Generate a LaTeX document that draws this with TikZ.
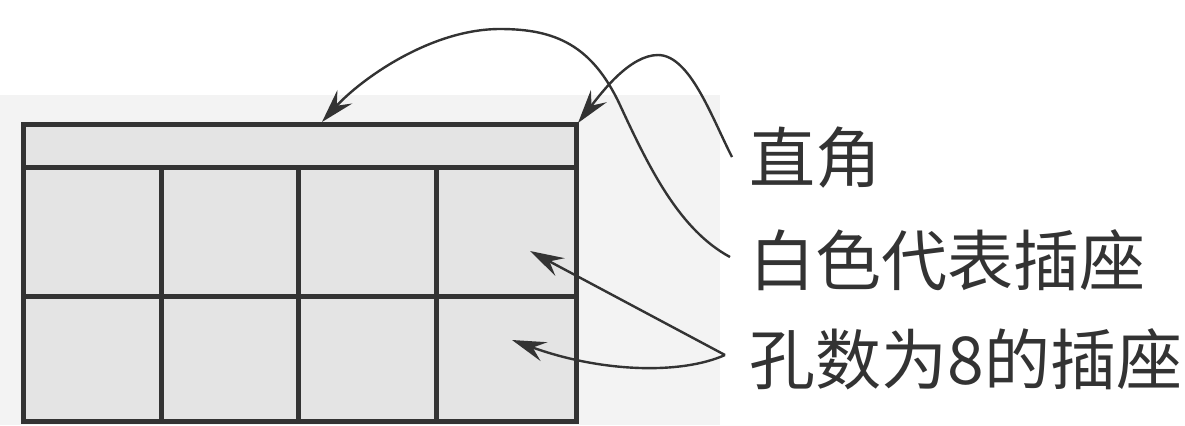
\documentclass[tikz,border=0pt]{standalone}
\usepackage{fontspec}
\newfontfamily\cjk{Noto Sans CJK SC}
\usetikzlibrary{arrows.meta}
\definecolor{ink}{HTML}{333333}
\definecolor{paper}{HTML}{E4E4E4}
\definecolor{haze}{HTML}{F3F3F3}
\tikzset{
  frame/.style={draw=ink, line width=2.5pt, line cap=rect},
  grid/.style={draw=ink, line width=2.5pt},
  pointer/.style={draw=ink, line width=1.2pt, -{Stealth[length=17pt, width=10pt, inset=6pt]}},
  label/.style={anchor=base west, inner sep=0pt, text=ink, font=\cjk\fontsize{33}{33}\selectfont},
}
\begin{document}
\begin{tikzpicture}[x=0.5pt, y=-0.5pt]
\useasboundingbox (0,0) rectangle (1185,425);
% faint scanned backdrop
\fill[haze] (0,95) rectangle (720,425);
% board
\fill[paper] (23,124) rectangle (576,421);
\draw[grid] (23,167) -- (576,167);
\draw[grid] (23,296) -- (576,296);
\draw[grid] (161,167) -- (161,421);
\draw[grid] (298,167) -- (298,421);
\draw[grid] (436,167) -- (436,421);
\draw[frame] (23,124) rectangle (576,421);
% labels
\node[label] (zj) at (749,182) {直角};
\node[label] (bs) at (749,285) {白色代表插座};
\node[label] (ks) at (749,384) {孔数为8的插座};
% targets
\coordinate (corner) at (578,123);
\coordinate (topband) at (322,122);
\coordinate (upcell) at (530,251);
\coordinate (lowcell) at (512,340);
\coordinate (zjend) at (732,157);
\coordinate (bsend) at (730,257);
\coordinate (ksend) at (725,355);
% connectors
\draw[pointer] (zjend) .. controls (712,118) and (690,55) .. (658,55)
  .. controls (630,55) and (602,92) .. (corner);
\draw[pointer] (bsend) .. controls (680,230) and (650,170) .. (620,105)
  .. controls (592,45) and (555,29) .. (500,29)
  .. controls (430,29) and (360,80) .. (topband);
\draw[pointer] (ksend) -- (upcell);
\draw[pointer] (ksend) .. controls (680,375) and (600,372) .. (lowcell);
\end{tikzpicture}
\end{document}
